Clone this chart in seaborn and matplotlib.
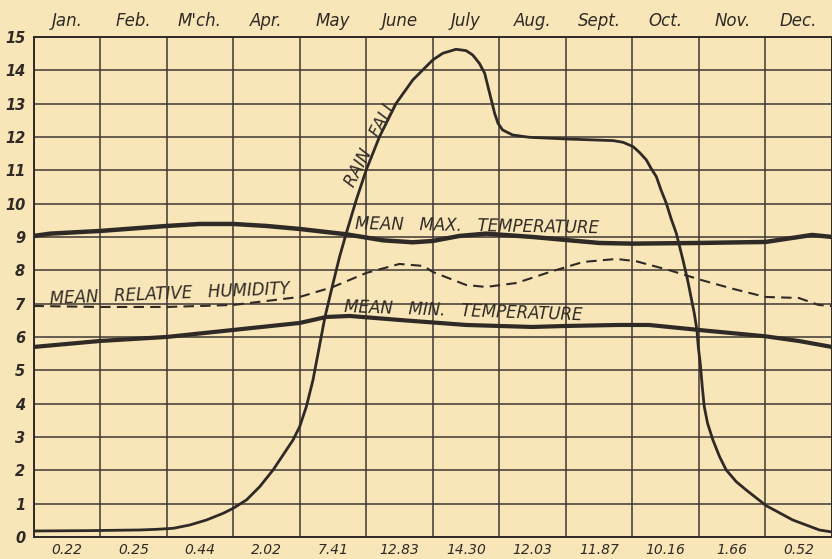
import pandas as pd
import matplotlib
matplotlib.use('Agg')
import matplotlib.pyplot as plt
import seaborn as sns

# Month names (top) and rainfall totals (bottom), one per column
months = ['Jan.', 'Feb.', "M'ch.", 'Apr.', 'May', 'June', 'July', 'Aug.', 'Sept.', 'Oct.', 'Nov.', 'Dec.']
rain_labels = ['0.22', '0.25', '0.44', '2.02', '7.41', '12.83', '14.30', '12.03', '11.87', '10.16', '1.66', '0.52']

# Curves (x in months from start of Jan., y on the 0-15 scale)
rain_x = [0.0, 0.8, 1.6, 1.85, 2.1, 2.35, 2.6, 2.85, 3.0, 3.2, 3.4, 3.6, 3.75, 3.9, 4.0, 4.1, 4.2,
          4.38, 4.5, 4.6, 4.7, 4.85, 5.0, 5.2, 5.45, 5.7, 6.0, 6.15, 6.35, 6.5, 6.6, 6.7, 6.78, 6.83,
          6.88, 6.93, 6.98, 7.05, 7.2, 7.45, 8.0, 8.71, 8.86, 9.01, 9.11, 9.21, 9.28, 9.36, 9.43,
          9.51, 9.58, 9.66, 9.71, 9.76, 9.83, 9.88, 9.93, 9.97, 9.99, 10.02, 10.05, 10.08, 10.13,
          10.21, 10.31, 10.41, 10.56, 10.71, 11.01, 11.41, 11.81, 12.0]
rain_y = [0.18, 0.19, 0.21, 0.23, 0.26, 0.36, 0.51, 0.71, 0.86, 1.11, 1.51, 2.01, 2.46, 2.91, 3.31, 3.91, 4.71,
          6.6, 7.6, 8.41, 9.11, 10.11, 11.01, 12.01, 13.01, 13.71, 14.31, 14.51, 14.63, 14.59, 14.46, 14.21, 13.91, 13.51,
          13.11, 12.71, 12.41, 12.21, 12.06, 11.99, 11.94, 11.89, 11.84, 11.71, 11.53, 11.31, 11.06, 10.81, 10.41,
          10.01, 9.56, 9.11, 8.71, 8.31, 7.71, 7.21, 6.71, 6.21, 5.71, 5.21, 4.51, 3.91, 3.41,
          2.91, 2.41, 2.01, 1.66, 1.41, 0.94, 0.51, 0.21, 0.15]

max_x = [0, 0.25, 1.0, 2.0, 2.5, 3.0, 3.5, 4.0, 4.7, 5.25, 5.7, 6.0, 6.4, 6.8, 7.5, 8.0, 8.5, 9.0, 10.0, 11.0, 11.3, 11.7, 12.0]
max_y = [9.03, 9.1, 9.18, 9.33, 9.39, 9.39, 9.33, 9.24, 9.08, 8.9, 8.84, 8.88, 9.03, 9.1, 9.0, 8.91, 8.82, 8.8, 8.82, 8.85, 8.94, 9.06, 9.0]

min_x = [0, 1.0, 2.0, 3.0, 4.0, 4.4, 4.75, 5.5, 6.5, 7.5, 8.0, 8.8, 9.25, 10.0, 11.0, 11.5, 12.0]
min_y = [5.7, 5.88, 6.0, 6.21, 6.42, 6.6, 6.63, 6.51, 6.36, 6.3, 6.33, 6.36, 6.36, 6.21, 6.02, 5.88, 5.7]

hum_x = [0, 1.0, 2.0, 3.0, 4.0, 4.5, 5.0, 5.5, 5.86, 6.0, 6.5, 6.8, 7.26, 7.76, 8.26, 8.76, 9.06, 9.56, 10.05, 10.5, 11.0, 11.5, 11.8, 12.0]
hum_y = [6.93, 6.9, 6.9, 6.96, 7.2, 7.5, 7.92, 8.19, 8.13, 7.95, 7.56, 7.5, 7.62, 7.95, 8.25, 8.34, 8.27, 8.0, 7.7, 7.45, 7.2, 7.17, 6.96, 6.93]

paper = '#f8e6b8'
ink = '#2f2a25'
grid_ink = '#3e3832'

sns.set_style('white', {'axes.facecolor': paper, 'figure.facecolor': paper,
                        'axes.edgecolor': ink, 'grid.color': grid_ink})
plt.rcParams['font.family'] = ['DejaVu Sans']

fig = plt.figure(figsize=(8.32, 5.59), dpi=100)
ax = fig.add_axes([0.0403, 0.0394, 0.9597, 0.8945])

# grid of months x units
ax.set_xlim(0, 12)
ax.set_ylim(0, 15)
ax.set_xticks([i + 0.5 for i in range(12)])
ax.set_xticks(range(13), minor=True)
ax.set_yticks(range(16))
ax.grid(True, which='minor', axis='x', color=grid_ink, linewidth=1.1)
ax.grid(True, which='major', axis='y', color=grid_ink, linewidth=1.1)
for s in ax.spines.values():
    s.set_color(ink)
    s.set_linewidth(1.4)

# the curves
sns.lineplot(x=rain_x, y=rain_y, ax=ax, color=ink, linewidth=2.0, sort=False, zorder=5)
sns.lineplot(x=max_x, y=max_y, ax=ax, color=ink, linewidth=3.2, zorder=5)
sns.lineplot(x=min_x, y=min_y, ax=ax, color=ink, linewidth=3.0, zorder=5)
sns.lineplot(x=hum_x, y=hum_y, ax=ax, color=ink, linewidth=1.5, linestyle=(0, (5, 3)), zorder=5)

# labels on the curves
lab = dict(color=ink, fontsize=12, style='italic', ha='center', va='center', zorder=6)
ax.text(5.07, 11.8, 'RAIN   FALL', rotation=63, **lab)
ax.text(6.66, 9.33, 'MEAN   MAX.   TEMPERATURE', rotation=-1, **lab)
ax.text(2.05, 7.3, 'MEAN   RELATIVE   HUMIDITY', rotation=2.4, **lab)
ax.text(6.46, 6.78, 'MEAN   MIN.   TEMPERATURE', rotation=-2, **lab)

# tick labels: rainfall at bottom, months on top, scale at left
ax.set_xticklabels(rain_labels, fontsize=10, style='italic', color=ink)
ax.set_yticklabels([str(v) for v in range(16)], fontsize=10.5, style='italic', weight='bold', color=ink)
ax.tick_params(axis='x', which='both', length=0, pad=4)
ax.tick_params(axis='y', length=0, pad=6)

top = ax.secondary_xaxis('top')
top.set_xticks([i + 0.5 for i in range(12)])
top.set_xticklabels(months, fontsize=12, style='italic', color=ink)
top.tick_params(length=0, pad=5)
top.spines['top'].set_visible(False)

ax.set_xlabel('')
ax.set_ylabel('')

fig.savefig('out.png', dpi=100, facecolor=paper)
